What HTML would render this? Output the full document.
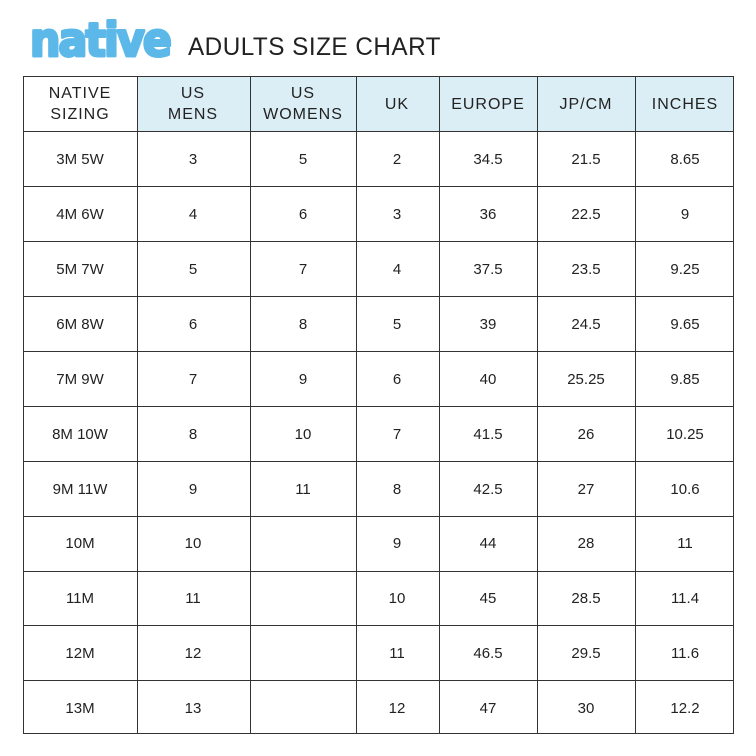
<!DOCTYPE html>
<html><head><meta charset="utf-8"><style>
html,body{margin:0;padding:0;background:#fff;}
svg{display:block}
text{font-family:"Liberation Sans",sans-serif;fill:#222;}
</style></head><body>
<svg width="756" height="756" viewBox="0 0 756 756" xmlns="http://www.w3.org/2000/svg">
<text x="30" y="56" style="font-family:'DejaVu Sans',sans-serif;font-weight:bold;font-size:46px;fill:#5bb8e8;stroke:#5bb8e8;stroke-width:3;stroke-linejoin:round;letter-spacing:-2px" textLength="140" lengthAdjust="spacingAndGlyphs">native</text>
<text x="188" y="55" style="font-size:25px;letter-spacing:0.5px" textLength="253" lengthAdjust="spacingAndGlyphs">ADULTS SIZE CHART</text>
<rect x="137" y="76" width="597" height="55" fill="#dbeef5"/>
<g stroke="#333" stroke-width="1" fill="none">
<rect x="23.5" y="76.5" width="710" height="657"/>
<line x1="137.5" y1="76" x2="137.5" y2="734"/>
<line x1="250.5" y1="76" x2="250.5" y2="734"/>
<line x1="356.5" y1="76" x2="356.5" y2="734"/>
<line x1="439.5" y1="76" x2="439.5" y2="734"/>
<line x1="537.5" y1="76" x2="537.5" y2="734"/>
<line x1="635.5" y1="76" x2="635.5" y2="734"/>
<line x1="23" y1="131.5" x2="734" y2="131.5"/>
<line x1="23" y1="186.5" x2="734" y2="186.5"/>
<line x1="23" y1="241.5" x2="734" y2="241.5"/>
<line x1="23" y1="296.5" x2="734" y2="296.5"/>
<line x1="23" y1="351.5" x2="734" y2="351.5"/>
<line x1="23" y1="406.5" x2="734" y2="406.5"/>
<line x1="23" y1="461.5" x2="734" y2="461.5"/>
<line x1="23" y1="516.5" x2="734" y2="516.5"/>
<line x1="23" y1="571.5" x2="734" y2="571.5"/>
<line x1="23" y1="625.5" x2="734" y2="625.5"/>
<line x1="23" y1="680.5" x2="734" y2="680.5"/>
</g>
<g text-anchor="middle" style="font-size:16px;letter-spacing:1px">
<text x="80" y="98">NATIVE</text><text x="80" y="119">SIZING</text>
<text x="193" y="98">US</text><text x="193" y="119">MENS</text>
<text x="303" y="98">US</text><text x="303" y="119">WOMENS</text>
<text x="397" y="109">UK</text>
<text x="488" y="109">EUROPE</text>
<text x="586" y="109">JP/CM</text>
<text x="685" y="109">INCHES</text>
</g>
<g text-anchor="middle" style="font-size:15px">
<g transform="translate(0,164)"><text x="80">3M 5W</text><text x="193">3</text><text x="303">5</text><text x="397">2</text><text x="488">34.5</text><text x="586">21.5</text><text x="685">8.65</text></g>
<g transform="translate(0,219)"><text x="80">4M 6W</text><text x="193">4</text><text x="303">6</text><text x="397">3</text><text x="488">36</text><text x="586">22.5</text><text x="685">9</text></g>
<g transform="translate(0,274)"><text x="80">5M 7W</text><text x="193">5</text><text x="303">7</text><text x="397">4</text><text x="488">37.5</text><text x="586">23.5</text><text x="685">9.25</text></g>
<g transform="translate(0,329)"><text x="80">6M 8W</text><text x="193">6</text><text x="303">8</text><text x="397">5</text><text x="488">39</text><text x="586">24.5</text><text x="685">9.65</text></g>
<g transform="translate(0,384)"><text x="80">7M 9W</text><text x="193">7</text><text x="303">9</text><text x="397">6</text><text x="488">40</text><text x="586">25.25</text><text x="685">9.85</text></g>
<g transform="translate(0,439)"><text x="80">8M 10W</text><text x="193">8</text><text x="303">10</text><text x="397">7</text><text x="488">41.5</text><text x="586">26</text><text x="685">10.25</text></g>
<g transform="translate(0,494)"><text x="80">9M 11W</text><text x="193">9</text><text x="303">11</text><text x="397">8</text><text x="488">42.5</text><text x="586">27</text><text x="685">10.6</text></g>
<g transform="translate(0,548)"><text x="80">10M</text><text x="193">10</text><text x="397">9</text><text x="488">44</text><text x="586">28</text><text x="685">11</text></g>
<g transform="translate(0,603)"><text x="80">11M</text><text x="193">11</text><text x="397">10</text><text x="488">45</text><text x="586">28.5</text><text x="685">11.4</text></g>
<g transform="translate(0,658)"><text x="80">12M</text><text x="193">12</text><text x="397">11</text><text x="488">46.5</text><text x="586">29.5</text><text x="685">11.6</text></g>
<g transform="translate(0,713)"><text x="80">13M</text><text x="193">13</text><text x="397">12</text><text x="488">47</text><text x="586">30</text><text x="685">12.2</text></g>
</g>
</svg>
</body></html>
